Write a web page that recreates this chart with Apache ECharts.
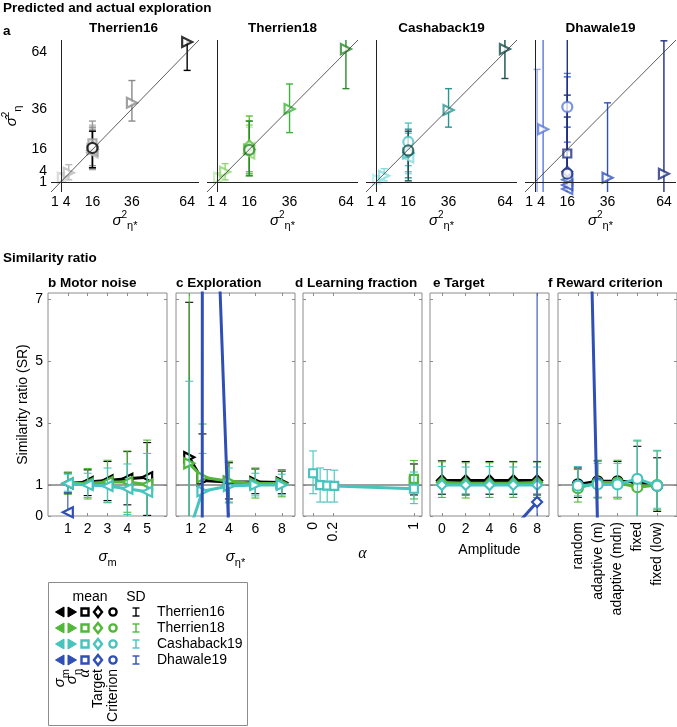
<!DOCTYPE html>
<html>
<head>
<meta charset="utf-8">
<script src="https://cdn.jsdelivr.net/npm/echarts@6/dist/echarts.min.js"></script>
<style>
  html, body { margin: 0; padding: 0; background: #fff; }
  #chart { width: 677px; height: 727px; }
</style>
</head>
<body>
<div id="chart"></div>
<script>
// ---------- Data ----------
const datasetNames = ['Therrien16', 'Therrien18', 'Cashaback19', 'Dhawale19'];
const sigmaSqTicks = [1, 4, 16, 36, 64];

// Panel a: [actual σ²η*, predicted σ²η, SD low, SD high]
const aT16Explore = [[1, 2, 0, 4.5], [4, 4.5, 1, 8.5], [16, 16, 7, 25], [36, 39, 30, 50], [64, 69, 55, 80]];
const aT16Other = [[16, 14.5, 6, 28], [16, 19, 8, 30], [16, 17.5, 6.5, 27], [16, 15.5, 7, 26], [16, 16.7, 7, 25]];
const aT16Kind = ['motor', 'alpha', 'target', 'motor', 'crit'];

const aT18Explore = [[1, 2, 0, 4.5], [4, 5, 1, 9], [16, 16, 4, 30], [36, 36, 24.3, 48.3], [64, 65.5, 46, 80]];
const aT18Other = [[16, 14, 3, 28], [16, 18, 5, 32.5], [16, 17, 4, 27], [16, 15.8, 3, 30]];
const aT18Kind = ['motor', 'target', 'motor', 'crit'];

const aC19Explore = [[1, 1, -1, 3], [4, 3, 0.5, 6.5], [16, 14, 5, 24], [36, 35.5, 27, 46], [64, 65.5, 51, 80]];
const aC19Other = [[16, 12, 4, 22], [16, 19.7, 8, 29], [16, 14.5, 2, 26], [16, 15.5, 0.5, 25]];
const aC19Kind = ['motor', 'crit', 'target', 'crit'];

const aD19Explore = [[1, -8, -60, 55.5], [4, 26, -60, 120], [36, 2, -60, 39], [64, 4, -60, 69.6]];
const aD19Other = [[16, 37, 19.6, 53.5], [16, 14, -30, 42.8], [16, 5, -40, 32], [16, 4, -60, 120],
  [16, 1, -20, 27], [16, -1.5, -20, 15], [16, -3.5, -30, 51.8]];
const aD19Kind = ['crit', 'alpha', 'target', 'crit', 'motor', 'motor', 'motor'];

// Panels b-f: [x, mean SR, SD low, SD high]
const motorNoiseTicks = [1, 2, 3, 4, 5];
const bT16 = [[1, 1.05, 0.74, 1.39], [2, 1.1, 0.66, 1.49], [3, 1.15, 0.5, 1.76], [4, 1.2, 0.36, 2.08], [5, 1.25, 0.02, 2.37]];
const bT18 = [[1, 1.06, 0.7, 1.42], [2, 1.05, 0.55, 1.53], [3, 1.1, 0.43, 1.8], [4, 1.1, 0.12, 2.1], [5, 1.02, -0.3, 2.45]];
const bC19 = [[1, 1.05, 0.8, 1.35], [2, 1.0, 0.6, 1.38], [3, 0.97, 0.45, 1.55], [4, 0.88, 0.05, 1.68], [5, 0.78, -0.4, 2.02]];
const bD19 = [[1, 0.12, -1.5, 0.75]];

const explorationTicks = [1, 2, 4, 6, 8];
const cT16 = [[1, 1.9, -2, 6.9], [2, 1.15, -0.35, 2.65], [4, 1.1, 0.55, 1.72], [6, 1.1, 0.72, 1.52], [8, 1.08, 0.72, 1.45]];
const cT18 = [[1, 1.7, -4, 9], [2, 1.25, -0.5, 2.97], [4, 1.12, 0.45, 1.77], [6, 1.05, 0.58, 1.55], [8, 1.05, 0.62, 1.5]];
const cC19 = [[1, -0.5, -5, 4.35], [2, 0.8, -0.4, 2.02], [4, 0.97, 0.42, 1.55], [6, 1.0, 0.65, 1.38], [8, 1.0, 0.68, 1.35]];
const cD19 = [[1, -1500, -2000, -1000], [2, 23, 10, 40], [4, -0.6, -5, 1.05]];

const alphaTicks = [0, 0.2, 1];
const dT16 = [[1, 1.12, 0.68, 1.68]];
const dT18 = [[1, 1.2, 0.55, 1.79]];
const dC19 = [[0, 1.38, 0.72, 2.1], [0.07, 1.0, 0.45, 1.55], [0.14, 0.98, 0.45, 1.5], [0.21, 0.97, 0.45, 1.48], [1, 0.88, 0.4, 1.42]];
const dD19 = [];

const amplitudeTicks = [0, 2, 4, 6, 8];
const eT16 = [[0, 1.15, 0.7, 1.78], [2, 1.15, 0.68, 1.76], [4, 1.15, 0.7, 1.76], [6, 1.15, 0.7, 1.76], [8, 1.15, 0.68, 1.76]];
const eT18 = [[0, 1.08, 0.6, 1.75], [2, 1.06, 0.58, 1.72], [4, 1.06, 0.6, 1.72], [6, 1.06, 0.6, 1.74], [8, 1.08, 0.6, 1.74]];
const eC19 = [[0, 1.0, 0.72, 1.6], [2, 1.0, 0.72, 1.58], [4, 1.0, 0.72, 1.6], [6, 1.0, 0.72, 1.58], [8, 1.0, 0.72, 1.58]];
const eD19 = [[6, -0.4, -3, -0.1], [8, 0.45, -2, 40]];

const criterionLabels = ['random', 'adaptive (m)', 'adaptive (mdn)', 'fixed', 'fixed (low)'];
const fT16 = [[1, 1.02, 0.6, 1.55], [2, 1.12, 0.6, 1.78], [3, 1.12, 0.6, 1.76], [4, 1.1, -0.2, 2.25], [5, 0.98, 0.15, 1.88]];
const fT18 = [[1, 0.9, 0.45, 1.5], [2, 1.08, 0.58, 1.8], [3, 1.08, 0.55, 1.8], [4, 0.93, -0.4, 2.42], [5, 1.0, 0.2, 2.1]];
const fC19 = [[1, 0.98, 0.65, 1.6], [2, 1.02, 0.6, 1.7], [3, 1.02, 0.6, 1.7], [4, 1.2, -0.1, 2.45], [5, 0.98, 0.25, 2.12]];
const fD19 = [[1, 27, 20, 34], [2, -0.5, -3, 1.2]];

const srTicks = [0, 1, 3, 5, 7];

// ---------- Styles ----------
const FONT = 'Liberation Sans, Arial, sans-serif';
const seriesColors = ['#000000', '#52b738', '#47c4bd', '#2f4fb7'];
const shadePalettes = [
  ['#d2d2d2', '#bababa', '#9a9a9a', '#8a8a8a', '#000000'],
  ['#bfe8ad', '#8fd472', '#5dc23d', '#3cb43c', '#2c8a2c'],
  ['#b4eeee', '#86dcdc', '#52c6c2', '#2b9590', '#17504d'],
  ['#93a6ea', '#5b79d8', '#3f5fc8', '#2f4fbf', '#1f2f7e']
];
const otherShades = [[1, 2, 3, 2, 4], [1, 2, 0, 4], [1, 2, 3, 4], [1, 4, 4, 4, 2, 3, 2]];
const kindSymbol = {
  motor: ['triangle', 90], explore: ['triangle', -90], alpha: ['rect', 0],
  target: ['diamond', 0], crit: ['circle', 0]
};

const topLefts = [48, 207, 366, 525];
const bottomLefts = [48, 176, 303, 430, 558];

// Error bars drawn through the axis scales, clipped to the grid
function errorBars(colors, width, cap) {
  return function (params, api) {
    const cs = params.coordSys;
    const x = api.value(0);
    const pLo = api.coord([x, api.value(1)]);
    const pHi = api.coord([x, api.value(2)]);
    const top = cs.y, bottom = cs.y + cs.height;
    if (pLo[0] < cs.x - 1 || pLo[0] > cs.x + cs.width + 1) return { type: 'group', children: [] };
    const y1 = Math.min(Math.max(pHi[1], top), bottom);
    const y2 = Math.min(Math.max(pLo[1], top), bottom);
    const color = Array.isArray(colors) ? colors[params.dataIndex] : colors;
    const style = { stroke: color, lineWidth: width };
    const kids = [{ type: 'line', shape: { x1: pLo[0], y1: y1, x2: pLo[0], y2: y2 }, style: style }];
    [pHi[1], pLo[1]].forEach(y => {
      if (y >= top && y <= bottom) {
        kids.push({ type: 'line', shape: { x1: pLo[0] - cap, y1: y, x2: pLo[0] + cap, y2: y }, style: style });
      }
    });
    return { type: 'group', children: kids };
  };
}

const subRich = {
  v: { fontSize: 15, fontStyle: 'italic', fontFamily: FONT, lineHeight: 22, color: '#000' },
  a: { fontSize: 16, fontStyle: 'italic', fontFamily: 'Liberation Serif, serif', lineHeight: 22, color: '#000' },
  sup: { fontSize: 10, verticalAlign: 'top', lineHeight: 10, fontFamily: FONT, color: '#000' },
  sub: { fontSize: 11, verticalAlign: 'bottom', lineHeight: 10, fontFamily: FONT, color: '#000' }
};
// small nudges so the crowded "1" and "4" labels sit apart
const nudgeRich = {
  up: { fontSize: 14, fontFamily: FONT, color: '#000', padding: [0, 0, 5, 0] },
  down: { fontSize: 14, fontFamily: FONT, color: '#000', padding: [5, 0, 0, 0] },
  left: { fontSize: 14, fontFamily: FONT, color: '#000', padding: [0, 4, 0, 0] },
  leftMore: { fontSize: 14, fontFamily: FONT, color: '#000', padding: [0, 4, 0, 0] }
};

const grids = [], xAxes = [], yAxes = [], series = [];
const extraX = [], extraY = [];

// ---------- Panel a ----------
const aExplore = [aT16Explore, aT18Explore, aC19Explore, aD19Explore];
const aOther = [aT16Other, aT18Other, aC19Other, aD19Other];
const aKind = [aT16Kind, aT18Kind, aC19Kind, aD19Kind];
const tickLabelStyle = { fontSize: 14, color: '#000', fontFamily: FONT, hideOverlap: false };

for (let i = 0; i < 4; i++) {
  grids.push({ left: topLefts[i], top: 40, width: 151, height: 152, show: false });
  const bare = { axisLine: { show: false, onZero: false }, axisTick: { show: false }, splitLine: { show: false } };
  xAxes.push(Object.assign({
    gridIndex: i, type: 'value', min: -5, max: 70,
    axisLabel: Object.assign({
      customValues: sigmaSqTicks.slice(1), margin: 3, rich: nudgeRich,
      formatter: v => (v === 4 ? '{left|4}' : String(v))
    }, tickLabelStyle),
    name: '{v|σ}{sup|2}{sub|η*}', nameLocation: 'middle', nameGap: 12,
    nameTextStyle: { rich: subRich }
  }, bare));
  yAxes.push(Object.assign({
    gridIndex: i, type: 'value', min: -5, max: 70,
    axisLabel: Object.assign({
      show: i === 0, customValues: sigmaSqTicks.slice(1), margin: 4, rich: nudgeRich,
      formatter: v => (v === 4 ? '{up|4}' : String(v))
    }, tickLabelStyle),
    name: i === 0 ? '{v|σ̂}{sup|2}{sub|η}' : '', nameLocation: 'middle', nameGap: 28,
    nameTextStyle: { rich: subRich }
  }, bare));
  // the "1" tick sits next to "4"; a separate axis keeps it from being hidden
  extraX.push(Object.assign({
    gridIndex: i, type: 'value', position: 'bottom', min: -5, max: 70,
    axisLabel: Object.assign({
      customValues: sigmaSqTicks.slice(0, 1), margin: 3, align: 'right', rich: nudgeRich,
      formatter: v => '{leftMore|' + v + '}'
    }, tickLabelStyle)
  }, bare));
  if (i === 0) {
    extraY.push(Object.assign({
      gridIndex: i, type: 'value', position: 'left', min: -5, max: 70,
      axisLabel: Object.assign({
        customValues: sigmaSqTicks.slice(0, 1), margin: 4, rich: nudgeRich,
        formatter: v => '{down|' + v + '}'
      }, tickLabelStyle)
    }, bare));
  }

  const pal = shadePalettes[i];
  const pts = [];
  aExplore[i].forEach(r => {
    pts.push({ r: r, kind: 'explore', c: pal[sigmaSqTicks.indexOf(r[0])] });
  });
  aOther[i].forEach((r, k) => {
    pts.push({ r: r, kind: aKind[i][k], c: pal[otherShades[i][k]] });
  });
  // keep the darkest marks on top
  const order = pts.slice();
  order.sort((p, q) => pal.indexOf(p.c) - pal.indexOf(q.c));

  series.push({
    type: 'custom', xAxisIndex: i, yAxisIndex: i, z: 2, silent: true,
    renderItem: errorBars(order.map(p => p.c), 1.4, 3.5),
    data: order.map(p => [p.r[0], p.r[2], p.r[3]])
  });
  series.push({
    type: 'scatter', xAxisIndex: i, yAxisIndex: i, z: 3, silent: true,
    data: order.map(p => ({
      value: [p.r[0], p.r[1]],
      symbol: kindSymbol[p.kind][0],
      symbolRotate: kindSymbol[p.kind][1],
      symbolSize: p.kind === 'alpha' ? 8 : 10,
      itemStyle: { color: '#fff', borderColor: p.c, borderWidth: 2.2 }
    })),
    markLine: {
      silent: true, symbol: 'none', label: { show: false }, animation: false,
      lineStyle: { color: '#222', width: 1, type: 'solid' },
      data: [
        { xAxis: 0 }, { yAxis: 0 },
        [{ coord: [-5, -5], lineStyle: { color: '#333', width: 0.8, type: 'solid' } }, { coord: [70, 70] }]
      ]
    }
  });
}

// ---------- Panels b-f ----------
const bottomPanels = [
  { rows: [bT16, bT18, bC19, bD19], min: 0, max: 6, ticks: motorNoiseTicks, symbol: 'triangle', rotate: 90,
    name: '{v|σ}{sub|m}', gap: 30 },
  { rows: [cT16, cT18, cC19, cD19], min: 0, max: 9, ticks: explorationTicks, symbol: 'triangle', rotate: -90,
    name: '{v|σ}{sub|η*}', gap: 30 },
  { rows: [dT16, dT18, dC19, dD19], min: -0.1, max: 1.08, ticks: alphaTicks, symbol: 'rect', rotate: 0,
    name: '{a|α}', gap: 27, labelRotate: 90 },
  { rows: [eT16, eT18, eC19, eD19], min: -1, max: 9, ticks: amplitudeTicks, symbol: 'diamond', rotate: 0,
    name: 'Amplitude', gap: 27 },
  { rows: [fT16, fT18, fC19, fD19], min: 0, max: 6, ticks: [1, 2, 3, 4, 5], symbol: 'circle', rotate: 0,
    name: '', gap: 27, labelRotate: 90, labels: criterionLabels }
];

bottomPanels.forEach((p, j) => {
  const g = 4 + j;
  grids.push({ left: bottomLefts[j], top: 293, width: 119, height: 223, show: true, borderColor: '#8c8c8c', borderWidth: 1 });
  xAxes[g] = {
    gridIndex: g, type: 'value', min: p.min, max: p.max,
    axisLine: { show: false, onZero: false }, splitLine: { show: false },
    axisTick: { inside: true, length: 3, customValues: p.ticks, lineStyle: { color: '#8c8c8c' } },
    axisLabel: Object.assign({
      customValues: p.ticks, margin: 6, rotate: p.labelRotate || 0,
      formatter: p.labels ? (v => p.labels[v - 1]) : (v => String(v))
    }, tickLabelStyle),
    name: p.name, nameLocation: 'middle', nameGap: p.gap,
    nameTextStyle: { fontSize: 14, color: '#000', fontFamily: FONT, rich: subRich }
  };
  yAxes[g] = {
    gridIndex: g, type: 'value', min: 0, max: 7.2,
    axisLine: { show: false, onZero: false }, splitLine: { show: false },
    axisTick: { inside: true, length: 3, customValues: srTicks, lineStyle: { color: '#8c8c8c' } },
    axisLabel: Object.assign({ show: j === 0, customValues: srTicks, margin: 5 }, tickLabelStyle),
    name: j === 0 ? 'Similarity ratio (SR)' : '', nameLocation: 'middle', nameGap: 18,
    nameTextStyle: { fontSize: 14, color: '#000', fontFamily: FONT }
  };

  p.rows.forEach((rows, k) => {
    if (!rows.length) return;
    const color = seriesColors[k];
    series.push({
      type: 'custom', xAxisIndex: g, yAxisIndex: g, z: 2 + k * 2, silent: true,
      renderItem: errorBars(color, 1.1, 4),
      data: rows.map(r => [r[0], r[2], r[3]])
    });
    const line = {
      type: 'line', xAxisIndex: g, yAxisIndex: g, z: 3 + k * 2, silent: true,
      data: rows.map(r => [r[0], r[1]]),
      symbol: p.symbol, symbolRotate: p.rotate, symbolSize: p.symbol === 'rect' ? 8 : 10,
      showAllSymbol: true,
      lineStyle: { color: color, width: 3 },
      itemStyle: { color: '#fff', borderColor: color, borderWidth: 2.2 }
    };
    if (k === 0) {
      line.markLine = {
        silent: true, symbol: 'none', label: { show: false }, animation: false,
        lineStyle: { color: '#7f7f7f', width: 1.5, type: 'solid' },
        data: [{ yAxis: 1 }]
      };
    }
    series.push(line);
  });
});

// mirrored tick axes on top and right of the framed panels
bottomPanels.forEach((p, j) => {
  const g = 4 + j;
  extraX.push({
    gridIndex: g, type: 'value', position: 'top', min: p.min, max: p.max,
    axisLine: { show: false, onZero: false }, splitLine: { show: false }, axisLabel: { show: false },
    axisTick: { inside: true, length: 3, customValues: p.ticks, lineStyle: { color: '#8c8c8c' } }
  });
  extraY.push({
    gridIndex: g, type: 'value', position: 'right', min: 0, max: 7.2,
    axisLine: { show: false, onZero: false }, splitLine: { show: false }, axisLabel: { show: false },
    axisTick: { inside: true, length: 3, customValues: srTicks, lineStyle: { color: '#8c8c8c' } }
  });
});

// ---------- Titles and legend ----------
const graphics = [];
function txt(x, y, text, opts) {
  graphics.push({
    type: 'text', x: x, y: y, silent: true,
    style: Object.assign({ text: text, fill: '#000', font: '13.5px ' + FONT, align: 'left', verticalAlign: 'middle' }, opts || {})
  });
}
const bold = { font: 'bold 13.5px ' + FONT };
txt(3, 8, 'Predicted and actual exploration', bold);
txt(3, 31, 'a', bold);
datasetNames.forEach((n, i) => txt(topLefts[i] + 75.5, 28, n, Object.assign({ align: 'center' }, bold)));
txt(3, 258, 'Similarity ratio', bold);
const panelTitles = [['b Motor noise', 48], ['c Exploration', 176], ['d Learning fraction', 295], ['e Target', 433], ['f Reward criterion', 548]];
panelTitles.forEach(t => txt(t[1], 283, t[0], bold));

// legend box
graphics.push({
  type: 'rect', silent: true, shape: { x: 48.5, y: 582.5, width: 199, height: 143 },
  style: { fill: 'none', stroke: '#8c8c8c', lineWidth: 1 }
});
txt(90, 597, 'mean', { align: 'center', font: '14px ' + FONT });
txt(136, 597, 'SD', { align: 'center', font: '14px ' + FONT });
const legendMarkX = [60, 72, 85, 98, 113];
datasetNames.forEach((n, i) => {
  const y = 612 + 16 * i;
  const c = seriesColors[i];
  const st = { fill: c, stroke: c, lineWidth: 1 };
  const hollow = { fill: '#fff', stroke: c, lineWidth: 2.4 };
  let x = legendMarkX[0];
  graphics.push({ type: 'polygon', silent: true, shape: { points: [[x + 4, y - 5], [x + 4, y + 5], [x - 4.5, y]] }, style: st });
  x = legendMarkX[1];
  graphics.push({ type: 'polygon', silent: true, shape: { points: [[x - 4, y - 5], [x - 4, y + 5], [x + 4.5, y]] }, style: st });
  x = legendMarkX[2];
  graphics.push({ type: 'rect', silent: true, shape: { x: x - 3.5, y: y - 3.5, width: 7, height: 7 }, style: hollow });
  x = legendMarkX[3];
  graphics.push({ type: 'polygon', silent: true, shape: { points: [[x, y - 5], [x + 4, y], [x, y + 5], [x - 4, y]] }, style: hollow });
  x = legendMarkX[4];
  graphics.push({ type: 'circle', silent: true, shape: { cx: x, cy: y, r: 3.6 }, style: hollow });
  // SD glyph
  const ls = { stroke: c, lineWidth: 1.4 };
  graphics.push({ type: 'line', silent: true, shape: { x1: 136, y1: y - 4, x2: 136, y2: y + 4 }, style: ls });
  graphics.push({ type: 'line', silent: true, shape: { x1: 132.5, y1: y - 4, x2: 139.5, y2: y - 4 }, style: ls });
  graphics.push({ type: 'line', silent: true, shape: { x1: 132.5, y1: y + 4, x2: 139.5, y2: y + 4 }, style: ls });
  txt(157, y, n, { font: '14px ' + FONT });
});
const legendKinds = ['{v|σ}{sub|m}', '{v|σ}{sub|η}', '{a|α}', 'Target', 'Criterion'];
legendKinds.forEach((t, k) => {
  graphics.push({
    type: 'text', silent: true, x: legendMarkX[k], y: 669, rotation: Math.PI / 2,
    style: { text: t, fill: '#000', font: '14px ' + FONT, align: 'right', verticalAlign: 'middle', rich: subRich }
  });
});

const chart = echarts.init(document.getElementById('chart'));
chart.setOption({
  animation: false,
  textStyle: { fontFamily: FONT },
  grid: grids,
  xAxis: xAxes.concat(extraX),
  yAxis: yAxes.concat(extraY),
  series: series,
  graphic: graphics
});
</script>
</body>
</html>
